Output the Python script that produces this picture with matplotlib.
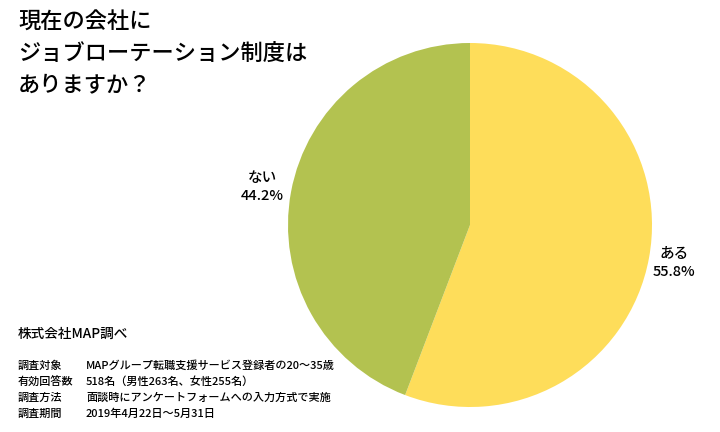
import matplotlib
matplotlib.use("Agg")
import matplotlib.pyplot as plt

plt.rcParams['font.family'] = ['Noto Sans CJK JP', 'DejaVu Sans']

# data
labels = ['ある', 'ない']
shares = [55.8, 44.2]
colors = ['#FEDD5A', '#B3C250']

title = '現在の会社に\nジョブローテーション制度は\nありますか？'
source = '株式会社MAP調べ'
note_keys = ['調査対象', '有効回答数', '調査方法', '調査期間']
note_vals = ['MAPグループ転職支援サービス登録者の20～35歳',
             '518名（男性263名、女性255名）',
             '面談時にアンケートフォームへの入力方式で実施',
             '2019年4月22日～5月31日']

W, H = 720, 432
fig = plt.figure(figsize=(W / 100, H / 100), dpi=100)

# pie centre (470, 225) px, radius 182 px
cx, cy, r = 470, 225, 182
ax = fig.add_axes([(cx - r) / W, (H - cy - r) / H, 2 * r / W, 2 * r / H])
ax.pie(shares, colors=colors, startangle=90, counterclock=False,
       wedgeprops=dict(linewidth=0))
ax.set_xlim(-1, 1)
ax.set_ylim(-1, 1)
ax.set_aspect('equal')
ax.axis('off')

# slice labels
fig.text(674 / W, 1 - 263 / H, '%s\n%.1f%%' % (labels[0], shares[0]),
         ha='center', va='center', fontsize=10.5, linespacing=1.35,
         weight='medium')
fig.text(262 / W, 1 - 187 / H, '%s\n%.1f%%' % (labels[1], shares[1]),
         ha='center', va='center', fontsize=10.5, linespacing=1.35,
         weight='medium')

# title
fig.text(18 / W, 1 - 11 / H, title, ha='left', va='top', fontsize=16,
         linespacing=1.45, weight='medium')

# footnote
fig.text(18 / W, 1 - 334 / H, source, ha='left', va='center', fontsize=9.8,
         weight='medium')
for i, (k, v) in enumerate(zip(note_keys, note_vals)):
    y = 1 - (366 + 16 * i) / H
    fig.text(18 / W, y, k, ha='left', va='center', fontsize=8,
             weight='medium')
    fig.text(86 / W, y, v, ha='left', va='center', fontsize=8,
             weight='medium')

fig.savefig('out.png', dpi=100)
